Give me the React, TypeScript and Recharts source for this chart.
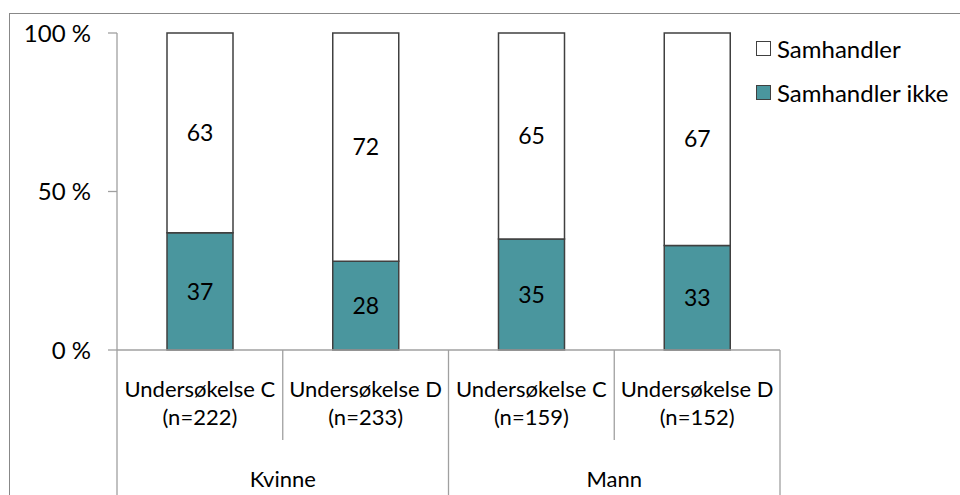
import React from 'react';
import { BarChart, Bar, XAxis, YAxis, LabelList } from 'recharts';

const categories = ['Undersøkelse C', 'Undersøkelse D', 'Undersøkelse C', 'Undersøkelse D'];
const sampleSizes = ['(n=222)', '(n=233)', '(n=159)', '(n=152)'];
const groups = ['Kvinne', 'Kvinne', 'Mann', 'Mann'];
const samhandlerIkke = [37, 28, 35, 33];
const samhandler = [63, 72, 65, 67];
const yTicks = [0, 50, 100];
const seriesNames = ['Samhandler', 'Samhandler ikke'];

const data = categories.map((c, i) => ({
  id: `${groups[i]}|${c}|${i}`,
  ikke: samhandlerIkke[i],
  sam: samhandler[i],
}));

const W = 960;
const H = 495;
const PLOT_LEFT = 117;
const PLOT_RIGHT = 780;
const PLOT_TOP = 33;
const PLOT_BOTTOM = 350;
const Y_AXIS_W = 60;
const BAND = (PLOT_RIGHT - PLOT_LEFT) / categories.length;
const FONT = 'Lato, "Open Sans", sans-serif';
const FS = 22;
const TEAL = '#4A969E';
const BAR_STROKE = '#404040';
const AXIS_GRAY = '#A0A0A0';

const CategoryTick = (props: any) => {
  const { x, index } = props;
  const i = index as number;
  const y0 = PLOT_BOTTOM;
  const right = x + BAND / 2;
  const left = x - BAND / 2;
  const isGroupEnd = i === categories.length - 1 || groups[i + 1] !== groups[i];
  const isGroupStart = i === 0 || groups[i - 1] !== groups[i];
  let groupLabel = null;
  if (isGroupStart) {
    let n = 0;
    for (let k = i; k < groups.length && groups[k] === groups[i]; k++) n++;
    const cx = left + (n * BAND) / 2;
    groupLabel = (
      <text x={cx} y={487} textAnchor="middle" fontFamily={FONT} fontSize={FS} fill="#000">
        {groups[i]}
      </text>
    );
  }
  return (
    <g>
      {i === 0 && <line x1={left} x2={left} y1={y0} y2={H + 5} stroke={AXIS_GRAY} strokeWidth={1.3} />}
      <line x1={right} x2={right} y1={y0} y2={isGroupEnd ? H + 5 : 440} stroke={AXIS_GRAY} strokeWidth={1.3} />
      <text x={x} y={397} textAnchor="middle" fontFamily={FONT} fontSize={FS} fill="#000">
        {categories[i]}
      </text>
      <text x={x} y={425} textAnchor="middle" fontFamily={FONT} fontSize={FS} fill="#000">
        {sampleSizes[i]}
      </text>
      {groupLabel}
    </g>
  );
};

const legendColors = ['#FFFFFF', TEAL];

export default function App() {
  return (
    <div style={{ position: 'fixed', left: 0, top: 0, width: W, height: H, overflow: 'hidden', background: '#fff' }}>
      <div
        style={{
          position: 'absolute',
          left: 9,
          top: 13,
          width: 1100,
          height: 700,
          border: '1.3px solid #888888',
          boxSizing: 'border-box',
        }}
      />
      <div style={{ position: 'absolute', left: 0, top: 0 }}>
        <BarChart
          width={W}
          height={H}
          data={data}
          barSize={66}
          margin={{ top: PLOT_TOP, right: W - PLOT_RIGHT, bottom: 0, left: PLOT_LEFT - Y_AXIS_W }}
        >
          <YAxis
            width={Y_AXIS_W}
            domain={[0, 100]}
            ticks={yTicks}
            tickFormatter={(v: number) => `${v} %`}
            tick={{ fontFamily: FONT, fontSize: 24, fill: '#000' }}
            tickSize={9}
            tickMargin={17}
            axisLine={{ stroke: AXIS_GRAY, strokeWidth: 1.3 }}
            tickLine={{ stroke: AXIS_GRAY, strokeWidth: 1.3 }}
            interval={0}
          />
          <XAxis
            dataKey="id"
            height={H - PLOT_BOTTOM}
            interval={0}
            tickSize={0}
            tickMargin={0}
            tickLine={false}
            axisLine={{ stroke: AXIS_GRAY, strokeWidth: 1.3 }}
            tick={<CategoryTick />}
          />
          <Bar dataKey="ikke" stackId="a" fill={TEAL} stroke={BAR_STROKE} strokeWidth={1.5} isAnimationActive={false}>
            <LabelList dataKey="ikke" position="center" fill="#000" fontFamily={FONT} fontSize={23} />
          </Bar>
          <Bar dataKey="sam" stackId="a" fill="#FFFFFF" stroke={BAR_STROKE} strokeWidth={1.5} isAnimationActive={false}>
            <LabelList dataKey="sam" position="center" fill="#000" fontFamily={FONT} fontSize={23} />
          </Bar>
        </BarChart>
      </div>
      <div style={{ position: 'absolute', left: 756, top: 32, fontFamily: FONT, fontSize: 24, color: '#000' }}>
        {seriesNames.map((name, i) => (
          <div key={name} style={{ display: 'flex', alignItems: 'center', height: 32, marginBottom: i === 0 ? 12 : 0 }}>
            <span
              style={{
                display: 'inline-block',
                width: 15,
                height: 15,
                background: legendColors[i],
                border: '1.3px solid #404040',
                marginRight: 6,
                boxSizing: 'border-box',
              }}
            />
            <span>{name}</span>
          </div>
        ))}
      </div>
    </div>
  );
}
